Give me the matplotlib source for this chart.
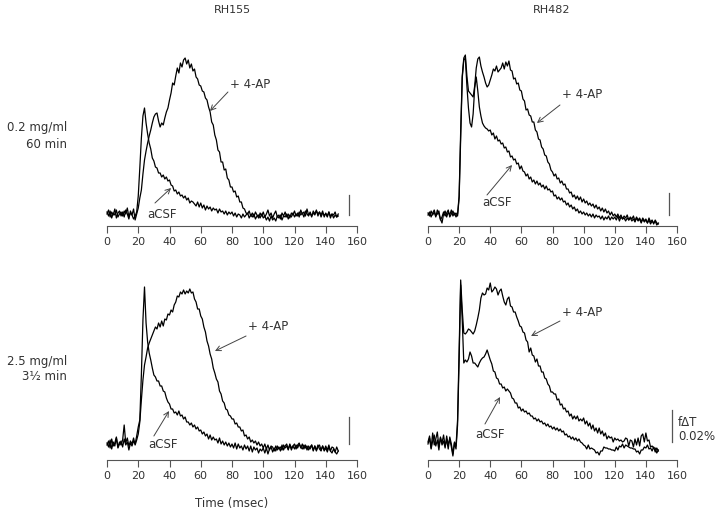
import matplotlib
matplotlib.use('Agg')
import matplotlib.pyplot as plt
import numpy as np

# ---------------- data (signal in arbitrary units, sampled every 1 ms) ----------------
TIME_MS = list(range(149))
XTICKS = [0, 20, 40, 60, 80, 100, 120, 140, 160]
COL_TITLES = ["RH155", "RH482"]
ROW_LABELS = [("0.2 mg/ml", "60 min"), ("2.5 mg/ml", "3\u00bd min")]
SCALE_LABEL = ("f\u0394T", "0.02%")

TL_ap = [12, 16, 9, 14, 11, 17, 8, 13, 15, 10, 14, 9, 16, 12, 7, 15, 11, 17, 6, 12,
         18, 28, 36, 52, 66, 75, 83, 90, 96, 103,
         109, 112, 113, 105, 99, 103, 101, 108, 114, 118,
         126, 133, 143, 141, 150, 158, 153, 163, 159, 166,
         168, 162, 166, 158, 162, 155, 157, 149, 147, 141,
         140, 135, 134, 128, 126, 119, 114, 104, 101, 91,
         86, 76, 74, 64, 64, 56, 57, 48, 46, 39,
         39, 34, 35, 29, 30, 24, 24, 18, 17, 13,
         12, 15, 10, 13, 9, 14, 11, 8, 13, 10,
         14, 9, 12, 16, 10, 13, 8, 12, 15, 9,
         11, 7, 13, 10, 14, 9, 12, 8, 13, 11,
         15, 10, 13, 9, 16, 12, 14, 10, 17, 11,
         13, 9, 15, 12, 16, 10, 14, 11, 15, 9,
         13, 10, 14, 8, 12, 11, 14, 9, 12]

TL_acsf = [14, 10, 15, 8, 13, 11, 16, 9, 12, 14, 10, 15, 12, 18, 9, 13, 11, 7, 10, 14,
           30, 58, 88, 110, 118, 103, 92, 83, 77, 68,
           65, 59, 58, 53, 53, 49, 51, 47, 49, 45,
           46, 41, 40, 35, 36, 32, 34, 30, 31, 28,
           30, 26, 28, 23, 25, 24, 22, 20, 24, 19,
           23, 18, 21, 16, 20, 17, 19, 15, 18, 16,
           17, 13, 17, 14, 15, 12, 15, 11, 14, 12,
           14, 10, 13, 9, 12, 11, 8, 12, 9, 11,
           13, 8, 11, 9, 12, 7, 10, 11, 8, 12,
           8, 10, 6, 9, 5, 10, 6, 8, 5, 10,
           8, 11, 6, 10, 9, 12, 7, 11, 9, 13,
           9, 12, 10, 14, 11, 13, 9, 15, 12, 10,
           14, 10, 13, 11, 15, 12, 14, 9, 13, 11,
           12, 9, 14, 10, 12, 8, 11, 9, 10]

TR_ap = [13, 10, 15, 11, 14, 9, 16, 12, 7, 3, 12, 15, 9, 14, 11, 16, 10, 13, 9, 12,
         30, 95, 150, 168, 171, 150, 135, 133, 131, 129,
         140, 158, 167, 169, 160, 154, 149, 143, 139, 141,
         146, 151, 157, 155, 160, 154, 156, 158, 163, 157,
         164, 160, 165, 156, 155, 147, 148, 142, 143, 136,
         135, 127, 125, 116, 117, 111, 110, 104, 104, 96,
         94, 87, 86, 79, 77, 71, 70, 64, 62, 56,
         54, 50, 52, 47, 48, 43, 45, 41, 42, 37,
         37, 33, 34, 29, 31, 27, 30, 26, 29, 24,
         27, 23, 25, 21, 23, 20, 22, 18, 21, 17,
         19, 15, 18, 14, 17, 13, 15, 11, 14, 10,
         12, 9, 12, 8, 11, 7, 10, 8, 11, 6,
         9, 7, 10, 5, 9, 6, 8, 4, 8, 5,
         7, 3, 8, 4, 6, 2, 6, 3, 2]

TR_acsf = [11, 14, 9, 13, 16, 10, 12, 15, 6, 9, 14, 10, 13, 16, 9, 12, 15, 11, 13, 10,
           28, 90, 148, 166, 168, 140, 118, 103, 99, 112,
           138, 149, 135, 119, 110, 103, 100, 98, 97, 95,
           96, 91, 93, 87, 90, 85, 86, 82, 83, 78,
           79, 74, 75, 69, 70, 66, 67, 62, 63, 57,
           60, 55, 54, 50, 52, 47, 49, 44, 46, 42,
           45, 41, 43, 39, 41, 37, 40, 36, 37, 34,
           35, 30, 31, 27, 29, 26, 28, 24, 25, 21,
           23, 19, 21, 17, 19, 15, 17, 13, 15, 12,
           14, 11, 13, 10, 12, 9, 12, 8, 11, 9,
           10, 7, 10, 6, 9, 7, 10, 6, 9, 7,
           9, 6, 10, 5, 9, 7, 8, 5, 8, 6,
           8, 5, 7, 4, 8, 5, 7, 3, 7, 4,
           6, 3, 6, 2, 5, 3, 5, 1, 3]

BL_acsf = [17, 13, 20, 11, 18, 14, 22, 12, 16, 19, 13, 21, 15, 18, 10, 17, 14, 19, 16, 24,
           33, 40, 85, 140, 173, 137, 118, 107, 100, 92,
           85, 83, 79, 79, 74, 74, 69, 68, 62, 58,
           56, 51, 51, 47, 48, 45, 49, 44, 45, 41,
           43, 38, 38, 35, 37, 33, 35, 31, 33, 29,
           30, 26, 28, 24, 26, 21, 25, 20, 23, 20,
           21, 17, 22, 16, 19, 15, 18, 14, 17, 13,
           16, 12, 17, 11, 16, 12, 14, 10, 15, 11,
           14, 9, 14, 8, 13, 10, 12, 7, 11, 9,
           12, 7, 12, 6, 11, 13, 8, 12, 9, 14,
           11, 13, 10, 15, 12, 14, 10, 16, 12, 14,
           11, 15, 12, 16, 13, 11, 15, 12, 14, 10,
           13, 15, 10, 14, 9, 13, 15, 10, 14, 9,
           12, 8, 13, 9, 7, 11, 8, 6, 9]

BL_ap = [15, 19, 12, 21, 14, 17, 23, 13, 18, 15, 20, 35, 17, 22, 14, 19, 16, 22, 15, 20,
         26, 38, 60, 80, 95, 103, 112, 117, 121, 125,
         129, 133, 131, 137, 133, 139, 134, 141, 140, 146,
         145, 150, 148, 155, 158, 164, 163, 168, 166, 170,
         166, 169, 167, 171, 167, 168, 161, 158, 151, 151,
         144, 141, 133, 128, 119, 114, 106, 101, 92, 87,
         81, 78, 69, 66, 59, 57, 51, 50, 45, 44,
         41, 41, 36, 37, 33, 33, 29, 30, 24, 25,
         21, 23, 18, 20, 17, 19, 15, 18, 14, 16,
         12, 16, 11, 15, 10, 14, 13, 9, 14, 10,
         13, 9, 15, 10, 14, 16, 11, 15, 10, 14,
         16, 11, 15, 17, 12, 16, 11, 15, 10, 14,
         11, 15, 9, 14, 10, 15, 11, 9, 14, 10,
         14, 10, 15, 9, 13, 12, 8, 13, 9]

BR_ap = [18, 24, 12, 27, 15, 21, 28, 13, 22, 17, 25, 14, 20, 11, 23, 16, 6, 18, 14, 40,
         110, 180, 150, 127, 126, 128, 131, 130, 128, 126,
         129, 135, 142, 150, 162, 167, 165, 166, 172, 170,
         177, 168, 170, 173, 171, 165, 169, 171, 164, 158,
         155, 161, 163, 154, 153, 148, 148, 143, 139, 134,
         133, 128, 127, 120, 118, 108, 112, 105, 104, 98,
         101, 94, 94, 88, 88, 82, 81, 76, 74, 68,
         68, 66, 66, 60, 61, 55, 56, 51, 52, 48,
         49, 44, 46, 41, 44, 41, 44, 39, 41, 39,
         42, 36, 39, 34, 37, 31, 35, 29, 32, 27,
         32, 26, 29, 24, 27, 21, 24, 22, 23, 18,
         22, 20, 21, 19, 20, 18, 19, 22, 21, 14,
         20, 19, 13, 21, 15, 22, 14, 24, 26, 18,
         27, 19, 20, 13, 14, 12, 12, 7, 10]

BR_acsf = [16, 22, 11, 19, 25, 14, 20, 10, 23, 15, 19, 12, 24, 15, 21, 13, 4, 17, 11, 35,
           100, 175, 140, 97, 100, 98, 101, 108, 104, 97,
           97, 95, 93, 97, 100, 102, 103, 106, 110, 105,
           100, 96, 89, 88, 82, 81, 76, 76, 72, 73,
           69, 71, 69, 67, 62, 61, 57, 57, 52, 53,
           49, 51, 48, 49, 46, 47, 44, 44, 41, 42,
           39, 41, 38, 39, 36, 37, 34, 36, 33, 34,
           31, 33, 30, 32, 29, 31, 28, 29, 25, 26,
           23, 24, 21, 23, 20, 22, 19, 21, 18, 17,
           15, 14, 11, 15, 11, 12, 11, 10, 7, 8,
           5, 9, 9, 13, 12, 12, 11, 11, 10, 10,
           9, 13, 10, 14, 13, 16, 12, 15, 14, 13,
           12, 12, 11, 11, 8, 9, 6, 10, 10, 13,
           12, 15, 11, 12, 9, 13, 8, 12, 9]

# scale bar (0.02 % fΔT) length in the same arbitrary units, per panel
SCALEBAR = {"TL": (11, 31), "TR": (11, 33), "BL": (16, 43), "BR": (18, 50)}

# ---------------- figure ----------------
W, H = 720, 517
fig = plt.figure(figsize=(W / 100, H / 100), dpi=100)
plt.rcParams['font.family'] = ['DejaVu Sans']
TXT = '#333333'
GRAY = '#555555'


def make_ax(x0, x1, ytop, ybot):
    ax = fig.add_axes([x0 / W, 1 - ybot / H, (x1 - x0) / W, (ybot - ytop) / H])
    ax.set_xlim(0, 160)
    ax.set_ylim(0, 180)
    for s in ('top', 'left', 'right'):
        ax.spines[s].set_visible(False)
    ax.spines['bottom'].set_color(GRAY)
    ax.spines['bottom'].set_linewidth(0.8)
    ax.set_xticks(XTICKS)
    ax.set_yticks([])
    ax.tick_params(axis='x', direction='out', length=5, width=0.8, color=GRAY,
                   labelsize=8, labelcolor=TXT, pad=3)
    ax.patch.set_alpha(0)
    return ax


panels = {
    "TL": (make_ax(107, 357, 46, 226), TL_ap, TL_acsf),
    "TR": (make_ax(428, 677, 46, 226), TR_ap, TR_acsf),
    "BL": (make_ax(107, 357, 280, 460), BL_ap, BL_acsf),
    "BR": (make_ax(428, 677, 280, 460), BR_ap, BR_acsf),
}

# annotation positions (data coords): text(x,y), arrow tail, arrow head
ANN = {
    "TL": {"ap": ((78.7, 141), (77.4, 134), (65.9, 115)),
           "cs": ((25.6, 11), (30.7, 23), (41.0, 38))},
    "TR": {"ap": ((86.1, 131), (84.8, 121), (70.0, 103)),
           "cs": ((34.7, 24), (37.9, 31), (54.0, 61))},
    "BL": {"ap": ((90.2, 133), (89.0, 124), (69.1, 109)),
           "cs": ((26.2, 15), (30.0, 24), (39.7, 49))},
    "BR": {"ap": ((86.1, 147), (84.8, 139), (66.2, 124)),
           "cs": ((30.2, 25), (36.6, 36), (46.3, 63))},
}
SB_X = {"TL": 154.9, "TR": 154.9, "BL": 155.0, "BR": 156.8}

for key, (ax, ap, cs) in panels.items():
    ax.plot(TIME_MS[:len(cs)], cs, color='black', lw=0.9, clip_on=False)
    ax.plot(TIME_MS[:len(ap)], ap, color='black', lw=0.9, clip_on=False)
    for lab, name in (("ap", "+ 4-AP"), ("cs", "aCSF")):
        (tx, ty), tail, head = ANN[key][lab]
        ax.text(tx, ty, name, ha='left', va='center', fontsize=8.5, color=TXT)
        ax.annotate('', xy=head, xytext=tail,
                    arrowprops=dict(arrowstyle='->', color='#444444', lw=0.7,
                                    shrinkA=0, shrinkB=0, mutation_scale=9))
    y0, y1 = SCALEBAR[key]
    ax.plot([SB_X[key], SB_X[key]], [y0, y1], color=GRAY, lw=0.9, clip_on=False)

axBR = panels["BR"][0]
axBR.text(160.6, 38, SCALE_LABEL[0], ha='left', va='center', fontsize=8.5, color=TXT, clip_on=False)
axBR.text(160.6, 23, SCALE_LABEL[1], ha='left', va='center', fontsize=8.5, color=TXT, clip_on=False)

fig.text(232 / W, 1 - 10 / H, COL_TITLES[0], ha='center', va='center', fontsize=8, color=TXT)
fig.text(552 / W, 1 - 10 / H, COL_TITLES[1], ha='center', va='center', fontsize=8, color=TXT)
for (l1, l2), (ya, yb) in zip(ROW_LABELS, [(128, 144), (362, 377)]):
    fig.text(67 / W, 1 - ya / H, l1, ha='right', va='center', fontsize=8.5, color=TXT)
    fig.text(67 / W, 1 - yb / H, l2, ha='right', va='center', fontsize=8.5, color=TXT)
fig.text(232 / W, 1 - 503 / H, "Time (msec)", ha='center', va='center', fontsize=8.5, color=TXT)

fig.savefig('out.png', dpi=100)
